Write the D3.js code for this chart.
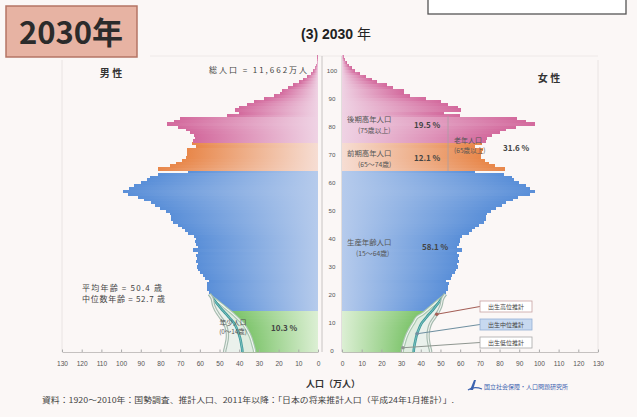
<!DOCTYPE html>
<html>
<head>
<meta charset="utf-8">
<script src="https://cdn.jsdelivr.net/npm/d3@7"></script>
<style>
  html, body { margin: 0; padding: 0; background: #fbf7f6; }
  svg { display: block; font-family: "Noto Sans CJK JP", "Noto Sans", sans-serif; }
</style>
</head>
<body>
<svg id="chart" width="637" height="417"></svg>
<script>
// Population by single year of age (0 … 105), medium-fertility projection, 2030, unit: 10,000 persons
const maleMedium = [
  38.4, 38.6, 38.9, 39.1, 39.4, 39.8, 40.2, 40.7, 41.3, 42.0,
  42.8, 44.0, 45.3, 46.6, 47.9, 49.2, 50.4, 51.5, 52.7, 53.9,
  55.1, 55.2, 56.3, 56.3, 56.5, 55.1, 57.6, 58.3, 59.8, 60.7,
  61.4, 60.7, 62.0, 61.4, 62.1, 60.8, 63.4, 60.8, 61.8, 62.5,
  61.9, 63.0, 66.2, 67.7, 69.2, 71.1, 73.8, 74.5, 74.6, 75.1,
  77.3, 80.2, 83.0, 84.9, 88.3, 91.2, 96.7, 99.0, 95.9, 93.6,
  89.8, 87.0, 85.3, 81.0, 66.2, 81.0, 75.3, 72.0, 69.2, 67.0,
  66.7, 66.5, 66.4, 61.7, 64.2, 63.5, 62.5, 63.0, 65.0, 67.0,
  71.0, 76.5, 73.0, 70.0, 46.0, 40.0, 42.0, 40.0, 36.0, 32.5,
  27.5, 22.5, 19.5, 18.5, 15.0, 12.5, 9.5, 7.5, 5.5, 3.8,
  2.6, 1.7, 1.1, 0.7, 0.4, 0.3
];
const femaleMedium = [
  36.4, 36.6, 36.8, 37.1, 37.4, 37.7, 38.1, 38.6, 39.2, 39.8,
  40.6, 41.8, 43.0, 44.2, 45.5, 46.7, 47.8, 48.9, 50.0, 51.3,
  52.5, 52.6, 53.8, 53.9, 54.2, 52.9, 55.2, 55.8, 57.2, 58.0,
  59.0, 58.3, 59.5, 58.9, 59.6, 58.5, 61.0, 58.5, 59.5, 60.1,
  60.0, 61.1, 64.3, 65.8, 67.5, 69.6, 72.2, 73.0, 73.2, 73.7,
  75.5, 78.4, 81.4, 83.3, 86.8, 89.6, 95.4, 98.0, 95.3, 93.2,
  90.0, 87.4, 86.3, 82.4, 67.6, 83.0, 77.8, 74.8, 72.5, 70.6,
  70.8, 71.1, 71.6, 67.3, 70.9, 72.9, 73.4, 76.2, 80.3, 83.3,
  88.2, 97.8, 93.4, 88.7, 59.9, 52.0, 60.2, 58.7, 53.9, 50.4,
  42.8, 34.7, 31.5, 31.3, 26.1, 22.9, 17.9, 15.0, 12.2, 9.0,
  6.7, 4.9, 3.5, 2.4, 1.5, 1.0
];

// High / low fertility variants for the ages born after the base year (0 … 19)
const maleLow = [32.2, 32.6, 33.0, 33.4, 33.8, 34.3, 35.0, 35.7, 36.5, 37.4,
                 38.4, 40.0, 41.5, 43.0, 44.7, 46.5, 48.2, 50.0, 51.8, 53.9];
const maleHigh = [47.4, 47.0, 46.7, 46.4, 46.1, 46.0, 46.0, 46.2, 46.5, 47.0,
                  47.6, 48.6, 49.7, 50.6, 51.6, 52.3, 53.0, 53.3, 53.5, 53.9];
const femaleLow = [30.6, 30.9, 31.3, 31.7, 32.1, 32.6, 33.2, 33.9, 34.7, 35.5,
                   36.5, 37.2, 38.0, 40.9, 42.5, 44.2, 45.8, 47.5, 49.2, 51.3];
const femaleHigh = [45.0, 44.6, 44.3, 44.0, 43.8, 43.7, 43.7, 43.9, 44.2, 44.6,
                    45.2, 46.2, 47.2, 48.1, 49.0, 49.7, 50.3, 50.6, 50.8, 51.3];

const ageTicks = [0, 10, 20, 30, 40, 50, 60, 70, 80, 90, 100];
const popTicks = [0, 10, 20, 30, 40, 50, 60, 70, 80, 90, 100, 110, 120, 130];

// Age groups: 0-14, 15-64, 65-74, 75+
const groupStart = [0, 15, 65, 75];
const groupNames = ["年少人口", "生産年齢人口", "前期高年人口", "後期高年人口"];
const groupRanges = ["(0～14歳)", "(15～64歳)", "(65～74歳)", "(75歳以上)"];
const groupShares = ["10.3 %", "58.1 %", "12.1 %", "19.5 %"];
const variantNames = ["出生高位推計", "出生中位推計", "出生低位推計"];

// Fill colours per age group: [near the axis, outer end of bar]
const groupColors = [
  ["#dcefd4", "#72bf5f"],
  ["#b6cbec", "#5a8fd8"],
  ["#f6ddd3", "#e8874a"],
  ["#efd3e4", "#d36a9d"]
];

const svg = d3.select("#chart");
const defs = svg.append("defs");

const yAge = d3.scaleLinear().domain([0, 106]).range([352, 55.2]);
const xL = d3.scaleLinear().domain([0, 130]).range([318, 62]);
const xR = d3.scaleLinear().domain([0, 130]).range([342, 598]);
const grp = a => d3.bisectRight(groupStart, a) - 1;

["L", "R"].forEach(side => {
  groupColors.forEach((c, k) => {
    const g = defs.append("linearGradient").attr("id", `g${side}${k}`)
      .attr("x1", side === "L" ? "1" : "0").attr("x2", side === "L" ? "0" : "1")
      .attr("y1", "0").attr("y2", "0");
    g.append("stop").attr("offset", "0").attr("stop-color", c[0]);
    g.append("stop").attr("offset", "0.55").attr("stop-color", d3.interpolateRgb(c[0], c[1])(0.55));
    g.append("stop").attr("offset", "1").attr("stop-color", c[1]);
  });
});

// ---- Heading block ----
svg.append("rect").attr("x", 6).attr("y", 6).attr("width", 131).attr("height", 51)
  .attr("fill", "#e7b3a3").attr("stroke", "#b57565").attr("stroke-width", 1.5);
svg.append("text").attr("x", 71).attr("y", 44).attr("text-anchor", "middle")
  .attr("font-size", 31).attr("font-weight", 700).attr("fill", "#2b2b2b").text("2030年");

svg.append("rect").attr("x", 428).attr("y", -6).attr("width", 198).attr("height", 20)
  .attr("fill", "#ffffff").attr("stroke", "#555").attr("stroke-width", 1.3);

const title = svg.append("text").attr("x", 336).attr("y", 39).attr("text-anchor", "middle")
  .attr("fill", "#222");
title.append("tspan").attr("font-family", "Liberation Sans, Arial, sans-serif")
  .attr("font-weight", 700).attr("font-size", 14).text("(3) 2030 ");
title.append("tspan").attr("font-size", 14).attr("font-weight", 400).text("年");

// faint frame lines
const frame = svg.append("g").attr("stroke", "#d9d3d3").attr("stroke-width", 0.8).attr("fill", "none");
frame.append("line").attr("x1", 150).attr("x2", 598).attr("y1", 56).attr("y2", 56).attr("stroke", "#ece6e6");
[62, 598].forEach(x => frame.append("line").attr("x1", x).attr("x2", x).attr("y1", 60).attr("y2", 352).attr("stroke", "#e6e0e0"));
[322, 342].forEach(x => frame.append("line").attr("x1", x).attr("x2", x).attr("y1", 56).attr("y2", 352).attr("stroke", "#bdb7b7"));

// ---- Bars ----
const barH = a => yAge(a) - yAge(a + 1) + 0.6;
svg.append("g").attr("shape-rendering", "crispEdges")
  .selectAll("rect").data(maleMedium.map((v, a) => ({ a, v }))).join("rect")
  .attr("x", d => xL(d.v)).attr("width", d => xL(0) - xL(d.v))
  .attr("y", d => yAge(d.a + 1)).attr("height", d => barH(d.a))
  .attr("fill", d => `url(#gL${grp(d.a)})`);
svg.append("g").attr("shape-rendering", "crispEdges")
  .selectAll("rect").data(femaleMedium.map((v, a) => ({ a, v }))).join("rect")
  .attr("x", xR(0)).attr("width", d => xR(d.v) - xR(0))
  .attr("y", d => yAge(d.a + 1)).attr("height", d => barH(d.a))
  .attr("fill", d => `url(#gR${grp(d.a)})`);

// ---- Fertility variant bands ----
function variantBand(scale, low, mid, high) {
  const n = low.length;
  const rows = d3.range(n).map(i => ({ y: yAge(i + 0.5), lo: low[i], md: mid[i], hi: high[i] }));
  rows.unshift({ y: yAge(0), lo: low[0], md: mid[0], hi: high[0] });
  rows.push({ y: yAge(n + 0.6), lo: mid[n], md: mid[n], hi: mid[n] });
  const g = svg.append("g");
  g.append("path").datum(rows)
    .attr("d", d3.area().curve(d3.curveBasis).y(d => d.y).x0(d => scale(d.lo)).x1(d => scale(d.hi)))
    .attr("fill", "#e8f0ea").attr("opacity", 0.92);
  const line = key => d3.line().curve(d3.curveBasis).y(d => d.y).x(d => scale(d[key]));
  g.append("path").datum(rows).attr("d", line("lo")).attr("fill", "none").attr("stroke", "#a9c7b0").attr("stroke-width", 3.4);
  g.append("path").datum(rows).attr("d", line("lo")).attr("fill", "none").attr("stroke", "#f4f8f4").attr("stroke-width", 1.1);
  g.append("path").datum(rows).attr("d", line("md")).attr("fill", "none").attr("stroke", "#3e9a9b").attr("stroke-width", 2.6);
  g.append("path").datum(rows).attr("d", line("md")).attr("fill", "none").attr("stroke", "#8cc9c6").attr("stroke-width", 0.8);
  g.append("path").datum(rows).attr("d", line("hi")).attr("fill", "none").attr("stroke", "#a6bbaf").attr("stroke-width", 3.4);
  g.append("path").datum(rows).attr("d", line("hi")).attr("fill", "none").attr("stroke", "#eef3ef").attr("stroke-width", 1.1);
}
variantBand(xL, maleLow, maleMedium, maleHigh);
variantBand(xR, femaleLow, femaleMedium, femaleHigh);

// ---- Axes ----
const axisStyle = g => {
  g.select(".domain").attr("stroke", "#b8b2b2").attr("stroke-width", 0.8);
  g.selectAll(".tick line").attr("stroke", "#aaa");
  g.selectAll(".tick text").attr("fill", "#555").attr("font-size", 6.6)
    .attr("font-family", "Liberation Sans, Arial, sans-serif");
};
svg.append("g").attr("transform", "translate(0,352)")
  .call(d3.axisBottom(xL).tickValues(popTicks).tickSize(-2.5).tickPadding(9).tickSizeOuter(0)).call(axisStyle);
svg.append("g").attr("transform", "translate(0,352)")
  .call(d3.axisBottom(xR).tickValues(popTicks).tickSize(-2.5).tickPadding(9).tickSizeOuter(0)).call(axisStyle);

svg.append("g").selectAll("text").data(ageTicks).join("text")
  .attr("x", 332).attr("y", d => yAge(d + 0.5) + 2.3).attr("text-anchor", "middle")
  .attr("font-size", 6.2).attr("fill", "#555").attr("font-family", "Liberation Sans, Arial, sans-serif")
  .text(d => d);

svg.append("text").attr("x", 333).attr("y", 387).attr("text-anchor", "middle")
  .attr("font-size", 9).attr("font-weight", 700).attr("fill", "#333").text("人口（万人）");

// ---- Panel headings ----
svg.append("text").attr("x", 111).attr("y", 77).attr("text-anchor", "middle")
  .attr("font-size", 10).attr("font-weight", 700).attr("fill", "#333").text("男 性");
svg.append("text").attr("x", 549).attr("y", 82).attr("text-anchor", "middle")
  .attr("font-size", 10).attr("font-weight", 700).attr("fill", "#333").text("女 性");
svg.append("text").attr("x", 307).attr("y", 73).attr("text-anchor", "end")
  .attr("font-size", 8).attr("fill", "#444")
  .attr("textLength", 98).attr("lengthAdjust", "spacing").text("総人口 = 11,662万人");

svg.append("text").attr("x", 82).attr("y", 291).attr("font-size", 8).attr("fill", "#444")
  .attr("textLength", 80).attr("lengthAdjust", "spacing").text("平均年齢 = 50.4 歳");
svg.append("text").attr("x", 82).attr("y", 302).attr("font-size", 8).attr("fill", "#444")
  .attr("textLength", 83).attr("lengthAdjust", "spacing").text("中位数年齢 = 52.7 歳");

// ---- Age group labels ----
const lab = (x, y, t, o = {}) => svg.append("text").attr("x", x).attr("y", y)
  .attr("font-size", o.size || 7.4).attr("fill", o.fill || "#555")
  .attr("font-weight", o.bold ? 700 : 400).attr("text-anchor", o.anchor || "start").text(t);

lab(347, 122, groupNames[3]); lab(358, 133, groupRanges[3], { size: 6.8 });
lab(414, 128, groupShares[3], { bold: true, fill: "#444", size: 8 });
lab(347, 156, groupNames[2]); lab(358, 167, groupRanges[2], { size: 6.8 });
lab(414, 161, groupShares[2], { bold: true, fill: "#444", size: 8 });
svg.append("line").attr("x1", 448).attr("x2", 448).attr("y1", 116).attr("y2", 171)
  .attr("stroke", "#a89fa3").attr("stroke-width", 0.8);
lab(454, 143, "老年人口", { size: 7 }); lab(454, 153, "(65歳以上)", { size: 6.6 });
lab(503, 151, "31.6 %", { bold: true, fill: "#444", size: 8 });
lab(347, 245, groupNames[1]); lab(356, 256, groupRanges[1], { size: 6.8 });
lab(422, 250, groupShares[1], { bold: true, fill: "#444", size: 8 });
lab(233, 325, groupNames[0], { anchor: "middle", size: 6.8 });
lab(233, 334, groupRanges[0], { anchor: "middle", size: 6.4 });
lab(271, 331, groupShares[0], { bold: true, fill: "#444", size: 8 });

// ---- Variant legend boxes with leader lines ----
const boxes = [
  { y: 301, fill: "#ffffff", stroke: "#c7a2a2", line: "#a45f57", tip: [xR(femaleHigh[13]), yAge(13.5)] },
  { y: 319, fill: "#c7d9f0", stroke: "#94b0d4", line: "#6f8fa0", tip: [xR(femaleMedium[6]), yAge(6.5)] },
  { y: 337, fill: "#ffffff", stroke: "#a9a9a9", line: "#8f9690", tip: [xR(femaleLow[1]), yAge(1.5)] }
];
boxes.forEach((b, i) => {
  svg.append("line").attr("x1", 480).attr("y1", b.y + 5.5).attr("x2", b.tip[0]).attr("y2", b.tip[1])
    .attr("stroke", b.line).attr("stroke-width", 1.1);
  svg.append("circle").attr("cx", b.tip[0]).attr("cy", b.tip[1]).attr("r", 1.8).attr("fill", b.line);
  svg.append("rect").attr("x", 480).attr("y", b.y).attr("width", 52).attr("height", 11)
    .attr("fill", b.fill).attr("stroke", b.stroke).attr("stroke-width", 0.8);
  svg.append("text").attr("x", 506).attr("y", b.y + 8).attr("text-anchor", "middle")
    .attr("font-size", 6).attr("fill", "#444").text(variantNames[i]);
});

// ---- Source & institute mark ----
svg.append("text").attr("x", 42).attr("y", 403).attr("font-size", 7.6).attr("fill", "#444")
  .attr("textLength", 412).attr("lengthAdjust", "spacingAndGlyphs")
  .text("資料：1920～2010年：国勢調査、推計人口、2011年以降：「日本の将来推計人口（平成24年1月推計）」.");

const logo = svg.append("g").attr("transform", "translate(468,380)");
logo.append("path").attr("d", "M2,10 L6,0 L8,0 L5,10 Z").attr("fill", "#3c63b0");
logo.append("path").attr("d", "M0,10 Q6,6 14,9").attr("fill", "none").attr("stroke", "#3c63b0").attr("stroke-width", 1.2);
logo.append("text").attr("x", 16).attr("y", 9).attr("font-size", 6).attr("fill", "#3c63b0")
  .text("国立社会保障・人口問題研究所");
</script>
</body>
</html>
